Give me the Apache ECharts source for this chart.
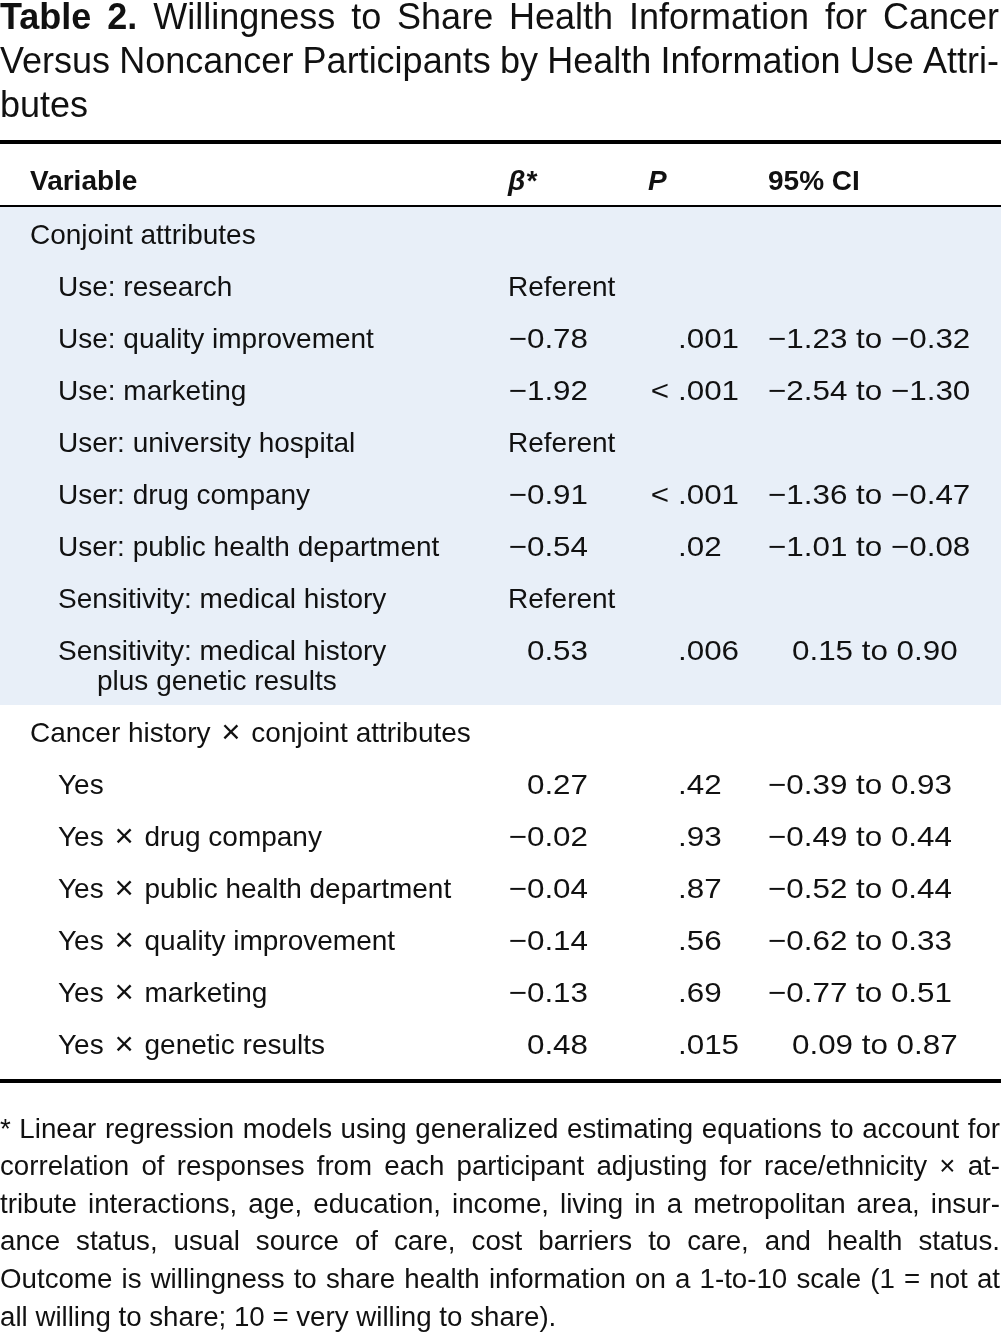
<!DOCTYPE html>
<html>
<head>
<meta charset="utf-8">
<script src="https://cdn.jsdelivr.net/npm/echarts@6/dist/echarts.min.js"></script>
<style>
html,body{margin:0;padding:0;background:#fff;}
#c{width:1001px;height:1332px;}
</style>
</head>
<body>
<div id="c"></div>
<script>
// ---------------- DATA ----------------
const titleBold = 'Table 2.';
const titleLines = [
  'Willingness to Share Health Information for Cancer',
  'Versus Noncancer Participants by Health Information Use Attri-',
  'butes'
];
const headers = ['Variable', 'β*', 'P', '95% CI'];
const rowLabels = [
  'Conjoint attributes',
  'Use: research',
  'Use: quality improvement',
  'Use: marketing',
  'User: university hospital',
  'User: drug company',
  'User: public health department',
  'Sensitivity: medical history',
  'Sensitivity: medical history\nplus genetic results',
  'Cancer history × conjoint attributes',
  'Yes',
  'Yes × drug company',
  'Yes × public health department',
  'Yes × quality improvement',
  'Yes × marketing',
  'Yes × genetic results'
];
const rowLevel = [0, 1, 1, 1, 1, 1, 1, 1, 1, 0, 1, 1, 1, 1, 1, 1];
const rowGroup = [0, 0, 0, 0, 0, 0, 0, 0, 0, 1, 1, 1, 1, 1, 1, 1];
const shadedGroups = [true, false];
const betas = [null, 'Referent', -0.78, -1.92, 'Referent', -0.91, -0.54, 'Referent', 0.53,
               null, 0.27, -0.02, -0.04, -0.14, -0.13, 0.48];
const pValues = ['', '', '.001', '< .001', '', '< .001', '.02', '', '.006',
                 '', '.42', '.93', '.87', '.56', '.69', '.015'];
const ciLow  = [null, null, -1.23, -2.54, null, -1.36, -1.01, null, 0.15,
                null, -0.39, -0.49, -0.52, -0.62, -0.77, 0.09];
const ciHigh = [null, null, -0.32, -1.30, null, -0.47, -0.08, null, 0.90,
                null, 0.93, 0.44, 0.44, 0.33, 0.51, 0.87];
const footnoteLines = [
  '* Linear regression models using generalized estimating equations to account for',
  'correlation of responses from each participant adjusting for race/ethnicity × at-',
  'tribute interactions, age, education, income, living in a metropolitan area, insur-',
  'ance status, usual source of care, cost barriers to care, and health status.',
  'Outcome is willingness to share health information on a 1-to-10 scale (1 = not at',
  'all willing to share; 10 = very willing to share).'
];

// ---------------- LAYOUT / STYLE ----------------
const W = 1001;
const FONT = '"Liberation Sans", Arial, Helvetica, sans-serif';
const INK = '#111';
const BAND = '#e8eff8';
const BODY_SIZE = 28;
const HEAD_SIZE = 28;
const TITLE_SIZE = 36;
const NOTE_SIZE = 27.7;
const TIMES_SIZE = 33;
const NUM_SCALE = 1.12;
const X_L0 = 30, X_L1 = 58, X_CONT = 97;
const X_BETA_L = 508, X_BETA_R = 588;
const X_P = 678, X_P_LT = 669, X_HDR_P = 648;
const X_CI = 768, CI_POS_SHIFT = 24;
const ROW_PX = 52;
const EXTRA_LINE = 30 / 52;
const BODY_TOP_PX = 207;
const BODY_DY = 3, HEAD_DY = 1;
const TITLE_Y0 = 19, TITLE_STEP = 44;
const NOTE_Y0 = 1130, NOTE_STEP = 37.6;

// row positions (in row units)
const rowPos = [];
const rowStart = [];
let acc = 0;
rowLabels.forEach(l => {
  const n = l.split('\n').length;
  rowStart.push(acc);
  rowPos.push(acc + 0.5);
  acc += 1 + EXTRA_LINE * (n - 1);
});
const bodyEnd = acc;
const groupSpans = shadedGroups.map((s, g) => {
  let st = Infinity, en = -Infinity;
  rowGroup.forEach((gg, i) => {
    if (gg === g) {
      st = Math.min(st, rowStart[i]);
      en = Math.max(en, rowStart[i] + 1 + EXTRA_LINE * (rowLabels[i].split('\n').length - 1));
    }
  });
  return [st, en, s ? 1 : 0];
});
const Y_MIN = -1.3, Y_MAX = bodyEnd + 0.3;

function fmt(v) {
  return (v < 0 ? '\u2212' : '') + Math.abs(v).toFixed(2);
}
function font(size, weight, style) {
  return (style || 'normal') + ' ' + (weight || 'normal') + ' ' + size + 'px ' + FONT;
}
function txt(x, y, text, align, scale, f, rich) {
  const st = {
    text: text, x: 0, y: 0, font: f, fill: INK,
    textAlign: align, textVerticalAlign: 'middle',
    align: align, verticalAlign: 'middle'
  };
  if (rich) st.rich = rich;
  return { type: 'text', x: x, y: y, scaleX: scale || 1, style: st };
}
const timesRich = {
  m: { font: font(TIMES_SIZE), fill: INK, color: INK, padding: [0, 3, 0, 3], verticalAlign: 'middle' }
};
function labelText(t) {
  return t.indexOf('×') >= 0 ? t.replace(/ × /g, ' {m|×} ') : t;
}

// ---------------- justified text (title, footnote) ----------------
const mctx = document.createElement('canvas').getContext('2d');
function mw(text, f) { mctx.font = f; return mctx.measureText(text).width; }
function lineElements(words, y, size, justify, width) {
  const fonts = words.map(w => font(size, w.bold ? 'bold' : 'normal'));
  const ws = words.map((w, i) => mw(w.t, fonts[i]));
  const sp = mw(' ', font(size));
  const sum = ws.reduce((a, b) => a + b, 0);
  let gap = sp, scale = 1;
  if (justify && words.length > 1) {
    gap = (width - sum) / (words.length - 1);
    if (gap < sp * 0.6) {
      gap = sp * 0.6;
      scale = width / (sum + gap * (words.length - 1));
    }
  }
  const els = [];
  let x = 0;
  words.forEach((w, i) => {
    els.push({
      type: 'text', x: x * scale, y: y, scaleX: scale,
      style: { text: w.t, font: fonts[i], fill: INK, textAlign: 'left', textVerticalAlign: 'middle', align: 'left', verticalAlign: 'middle' }
    });
    x += ws[i] + gap;
  });
  return els;
}

const graphicEls = [];
titleLines.forEach((line, k) => {
  let words = line.split(' ').map(t => ({ t: t }));
  if (k === 0) words = titleBold.split(' ').map(t => ({ t: t, bold: true })).concat(words);
  graphicEls.push(...lineElements(words, TITLE_Y0 + k * TITLE_STEP, TITLE_SIZE, k < titleLines.length - 1, W - 2));
});
footnoteLines.forEach((line, k) => {
  const words = line.split(' ').map(t => ({ t: t }));
  graphicEls.push(...lineElements(words, NOTE_Y0 + k * NOTE_STEP, NOTE_SIZE, k < footnoteLines.length - 1, W - 1));
});

// ---------------- chart ----------------
const chart = echarts.init(document.getElementById('c'), null, { renderer: 'canvas' });

function renderBand(params, api) {
  if (!api.value(2)) return null;
  const y0 = api.coord([0, api.value(0)])[1];
  const y1 = api.coord([0, api.value(1)])[1];
  const cs = params.coordSys;
  return { type: 'rect', shape: { x: cs.x, y: y0, width: cs.width, height: y1 - y0 }, style: { fill: BAND } };
}

function renderHeader(params, api) {
  const y = api.coord([0, api.value(0)])[1] + HEAD_DY;
  const x0 = params.coordSys.x;
  return {
    type: 'group', children: [
      txt(x0 + X_L0, y, headers[0], 'left', 1, font(HEAD_SIZE, 'bold')),
      txt(x0 + X_BETA_L, y, headers[1], 'left', 1, font(HEAD_SIZE, 'bold', 'italic')),
      txt(x0 + X_HDR_P, y, headers[2], 'left', 1, font(HEAD_SIZE, 'bold', 'italic')),
      txt(x0 + X_CI, y, headers[3], 'left', 1, font(HEAD_SIZE, 'bold'))
    ]
  };
}

function renderRow(params, api) {
  const i = api.value(0);
  const y = api.coord([0, api.value(1)])[1] + BODY_DY;
  const step = api.coord([0, api.value(1) + EXTRA_LINE])[1] + BODY_DY - y;
  const x0 = params.coordSys.x;
  const f = font(BODY_SIZE);
  const children = [];
  rowLabels[i].split('\n').forEach((t, k) => {
    const lx = k === 0 ? (rowLevel[i] ? X_L1 : X_L0) : X_CONT;
    const lt = labelText(t);
    children.push(txt(x0 + lx, y + k * step, lt, 'left', 1, f, lt !== t ? timesRich : null));
  });
  const b = betas[i];
  if (typeof b === 'string') {
    children.push(txt(x0 + X_BETA_L, y, b, 'left', 1, f));
  } else if (b !== null) {
    children.push(txt(x0 + X_BETA_R, y, fmt(b), 'right', NUM_SCALE, f));
  }
  const p = pValues[i];
  if (p) {
    if (p.charAt(0) === '<') {
      children.push(txt(x0 + X_P_LT, y, '<', 'right', NUM_SCALE, f));
      children.push(txt(x0 + X_P, y, p.replace(/^<\s*/, ''), 'left', NUM_SCALE, f));
    } else {
      children.push(txt(x0 + X_P, y, p, 'left', NUM_SCALE, f));
    }
  }
  if (ciLow[i] !== null) {
    const cx = X_CI + (ciLow[i] >= 0 ? CI_POS_SHIFT : 0);
    children.push(txt(x0 + cx, y, fmt(ciLow[i]) + ' to ' + fmt(ciHigh[i]), 'left', NUM_SCALE, f));
  }
  return { type: 'group', children: children };
}

chart.setOption({
  animation: false,
  backgroundColor: '#fff',
  grid: { left: 0, right: 0, top: BODY_TOP_PX + Y_MIN * ROW_PX, height: (Y_MAX - Y_MIN) * ROW_PX },
  xAxis: { type: 'value', min: 0, max: W, show: false },
  yAxis: { type: 'value', inverse: true, min: Y_MIN, max: Y_MAX, show: false },
  graphic: { elements: graphicEls },
  series: [
    {
      type: 'custom', name: 'band', z: 1, silent: true,
      encode: { y: [0, 1] },
      data: groupSpans,
      renderItem: renderBand,
      markLine: {
        silent: true, symbol: ['none', 'none'], label: { show: false },
        emphasis: { disabled: true },
        data: [
          { yAxis: -1.25, lineStyle: { color: '#000', width: 4, type: 'solid' } },
          { yAxis: -0.02, lineStyle: { color: '#000', width: 2, type: 'solid' } },
          { yAxis: bodyEnd + 0.22, lineStyle: { color: '#000', width: 4, type: 'solid' } }
        ]
      }
    },
    {
      type: 'custom', name: 'header', z: 3, silent: true,
      encode: { y: 0 },
      data: [[-0.5]],
      renderItem: renderHeader
    },
    {
      type: 'custom', name: 'rows', z: 3, silent: true,
      encode: { y: 1 },
      data: rowPos.map((p, i) => [i, p]),
      renderItem: renderRow
    }
  ]
});
</script>
</body>
</html>
